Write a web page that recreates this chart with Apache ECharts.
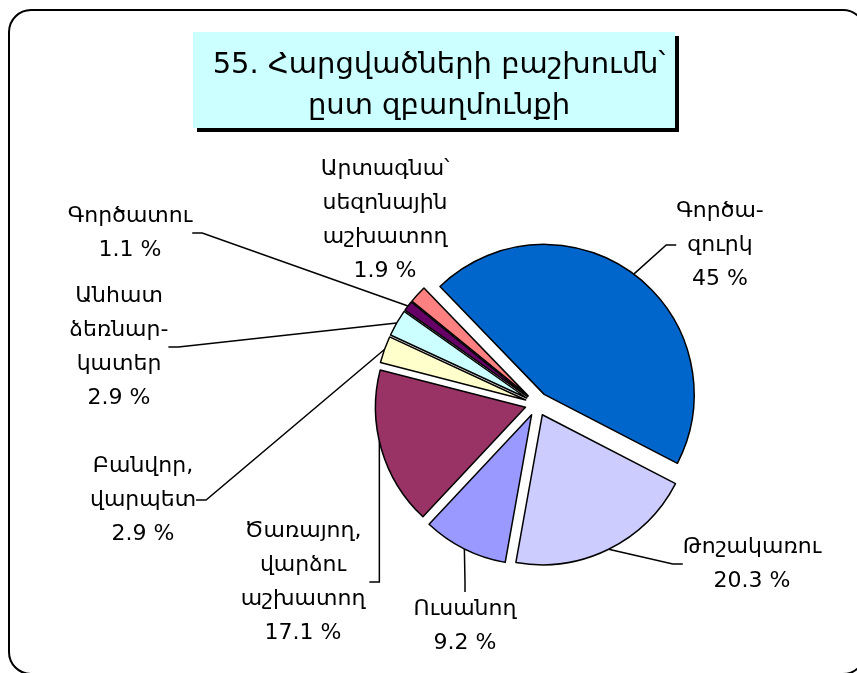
<!DOCTYPE html>
<html>
<head>
<meta charset="utf-8">
<title>55. Հարցվածների բաշխումն՝ ըստ զբաղմունքի</title>
<script src="https://cdn.jsdelivr.net/npm/echarts@6/dist/echarts.min.js"></script>
<style>
    html, body { margin: 0; padding: 0; background: #fff; }
    #chart { width: 857px; height: 673px; }
</style>
</head>
<body>
<div id="chart"></div>
<script>
// data
var titleText = '55. Հարցվածների բաշխումն՝\nըստ զբաղմունքի'
var categories = [
    'Գործա-\nզուրկ',
    'Թոշակառու',
    'Ուսանող',
    'Ծառայող,\nվարձու\nաշխատող',
    'Բանվոր,\nվարպետ',
    'Անհատ\nձեռնար-\nկատեր',
    'Գործատու',
    'Արտագնա՝\nսեզոնային\nաշխատող'
]
var shares = [45, 20.3, 9.2, 17.1, 2.9, 2.9, 1.1, 1.9]

// styling, kept apart from the data
var colors = ['#0066cc', '#ccccff', '#9999ff', '#993366', '#ffffcc', '#ccffff', '#660066', '#ff8080']
// where each label block sits (centre of the text)
var labelPos = [
    [720, 245],
    [752, 564],
    [465, 626],
    [303, 582],
    [143, 500],
    [119, 347],
    [130, 233],
    [385, 220]
]
// leader drawn as a short horizontal stub and then straight up to the rim
var elbowLeader = [false, false, false, true, false, false, false, false]
var font = 'DejaVu Sans'
var pieCenter = [537, 404]
var pieRadius = 150
var startAngle = 134
var explode = 12 // every slice is pulled out of the pie by the same amount

var chart = echarts.init(document.getElementById('chart'))

// one pie series per slice: all share the same angles, only slice i is painted,
// and that series is shifted along the slice's bisector to explode it
var total = shares.reduce(function (a, b) { return a + b }, 0)
var series = []
var acc = 0
shares.forEach(function (v, i) {
    var mid = (startAngle - 360 * (acc + v / 2) / total) * Math.PI / 180
    acc += v
    var center = [
        pieCenter[0] + explode * Math.cos(mid),
        pieCenter[1] - explode * Math.sin(mid)
    ]

    var data = shares.map(function (s, j) {
        if (j !== i) {
            return {
                name: categories[j],
                value: s,
                itemStyle: { color: 'transparent', borderWidth: 0 },
                label: { show: false },
                labelLine: { show: false }
            }
        }
        return {
            name: categories[j],
            value: s,
            itemStyle: { color: colors[j] },
            // the seasonal workers label sits right above its slice, no leader line
            labelLine: { show: j !== categories.length - 1 }
        }
    })

    series.push({
        type: 'pie',
        silent: true,
        center: center,
        radius: pieRadius,
        startAngle: startAngle,
        clockwise: true,
        avoidLabelOverlap: false,
        itemStyle: {
            borderColor: '#000',
            borderWidth: 1.5
        },
        label: {
            show: true,
            position: 'outside',
            fontFamily: font,
            fontSize: 22,
            lineHeight: 34,
            color: '#000',
            align: 'center',
            formatter: function (p) {
                return p.name + '\n' + p.value + ' %'
            }
        },
        labelLine: {
            show: true,
            length: 10,
            length2: 10,
            lineStyle: { color: '#000', width: 1.5 }
        },
        labelLayout: function (params) {
            var p = labelPos[params.dataIndex]
            var out = {
                x: p[0],
                y: p[1],
                align: 'center',
                verticalAlign: 'middle'
            }
            if (elbowLeader[params.dataIndex]) {
                // stub off the right side of the text, then up to where the rim is
                var right = p[0] + params.labelRect.width / 2
                var lx = right + 14
                var dx = lx - center[0]
                var ly = center[1] + Math.sqrt(Math.max(0, pieRadius * pieRadius - dx * dx))
                out.labelLinePoints = [[lx, ly], [lx, p[1]], [right + 4, p[1]]]
            }
            return out
        },
        data: data
    })
})

var option = {
    animation: false,
    backgroundColor: '#fff',
    graphic: [
        {
            // outer rounded frame
            type: 'rect',
            z: 0,
            shape: { x: 9, y: 10, width: 856, height: 664, r: 22 },
            style: { fill: 'none', stroke: '#000', lineWidth: 2 }
        },
        {
            // title box shadow
            type: 'rect',
            z: 0,
            shape: { x: 197, y: 36, width: 482, height: 96 },
            style: { fill: '#000' }
        },
        {
            type: 'rect',
            z: 1,
            shape: { x: 193, y: 32, width: 482, height: 96 },
            style: { fill: '#ccffff' }
        }
    ],
    title: {
        text: titleText,
        left: 434,
        top: 40,
        textAlign: 'center',
        z: 10,
        textStyle: {
            fontFamily: font,
            fontSize: 29,
            fontWeight: 'normal',
            color: '#000',
            lineHeight: 41
        }
    },
    series: series
}

chart.setOption(option)
</script>
</body>
</html>
